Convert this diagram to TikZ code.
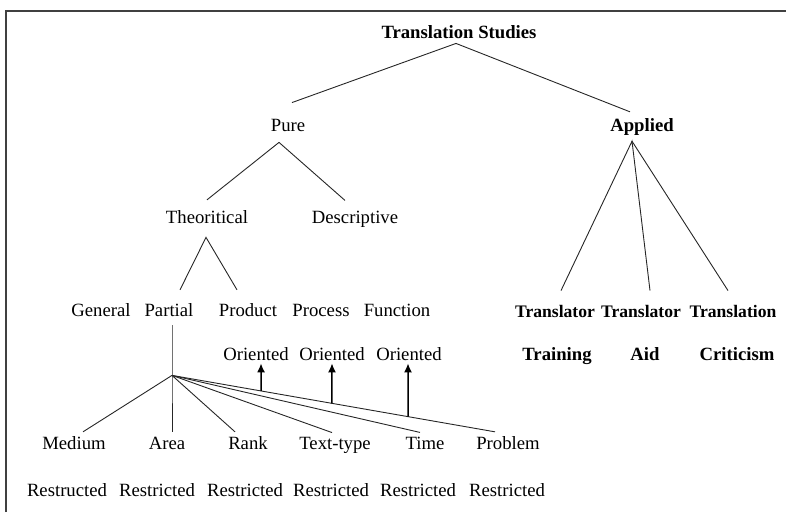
\documentclass[tikz,border=0pt]{standalone}
\usepackage{fontspec}
\setmainfont{Liberation Serif}
\usetikzlibrary{calc,arrows.meta}

\begin{document}
\begin{tikzpicture}[x=1pt,y=-1pt,
term/.style={inner sep=0pt, anchor=base, font=\fontsize{18.7}{22}\selectfont},
boldterm/.style={term, font=\fontsize{18.7}{22}\selectfont\bfseries},
narrowterm/.style={term, font=\fontsize{17.6}{22}\selectfont\bfseries},
branch/.style={draw=black!85, line width=0.9pt},
uparrow/.style={draw=black, line width=1.5pt, -{Latex[length=9pt,width=8pt]}}]
\useasboundingbox (0,0) rectangle (786,512);
\draw[line width=1.6pt, black!75] (6,512) -- (6,11) -- (786,11);

% upper levels
\node[boldterm] (studies) at (459,38) {Translation Studies};
\node[term] (pure) at (288,131) {Pure};
\node[boldterm] (applied) at (642,131) {Applied};
\node[term] (theo) at (207,223) {Theoritical};
\node[term] (descr) at (355,223) {Descriptive};

% pure branch
\node[term] (general) at (101,316) {General};
\node[term] (partial) at (169,316) {Partial};
\node[term] (product) at (248,316) {Product};
\node[term] (process) at (321,316) {Process};
\node[term] (function) at (397,316) {Function};
\node[term] (or1) at (256,360) {Oriented};
\node[term] (or2) at (332,360) {Oriented};
\node[term] (or3) at (409,360) {Oriented};

\node[term] (medium) at (74,449) {Medium};
\node[term] (area) at (167,449) {Area};
\node[term] (rank) at (248,449) {Rank};
\node[term] (texttype) at (335,449) {Text-type};
\node[term] (time) at (425,449) {Time};
\node[term] (problem) at (508,449) {Problem};
\node[term] (r1) at (67,496) {Restructed};
\node[term] (r2) at (157,496) {Restricted};
\node[term] (r3) at (245,496) {Restricted};
\node[term] (r4) at (331,496) {Restricted};
\node[term] (r5) at (418,496) {Restricted};
\node[term] (r6) at (507,496) {Restricted};

% applied branch
\node[narrowterm] (tr1) at (555,317) {Translator};
\node[narrowterm] (tr2) at (641,317) {Translator};
\node[narrowterm] (tr3) at (733,317) {Translation};
\node[boldterm] (training) at (557,360) {Training};
\node[boldterm] (aid) at (645,360) {Aid};
\node[boldterm] (criticism) at (737,360) {Criticism};

% connectors
\draw[branch] ([shift={(4,-16)}]pure.north) -- ([shift={(-3,5)}]studies.south) -- ([shift={(-12,-6)}]applied.north);
\draw[branch] ([shift={(0,-10)}]theo.north) -- ([shift={(-9,11)}]pure.south) -- ([shift={(-10,-10)}]descr.north);
\draw[branch] ([shift={(11,-13)}]partial.north) -- ([shift={(-1,14)}]theo.south) -- ([shift={(-11,-13)}]product.north);
\draw[branch] ([shift={(6,-14)}]tr1.north) -- ([shift={(-10,6)}]applied.south) -- ([shift={(9,-14)}]tr2.north);
\draw[branch] ([shift={(-10,6)}]applied.south) -- ([shift={(-5,-14)}]tr3.north);

\coordinate (hub) at ([shift={(3,59)}]partial.south);
\coordinate (pend) at ([shift={(-13,-4)}]problem.north);
\draw[branch] ([shift={(3,9)}]partial.south) -- (hub) -- ([shift={(5,-4)}]area.north);
\foreach \n/\dx in {medium/9, rank/-13, texttype/-3, time/-5}
  \draw[branch] (hub) -- ([shift={(\dx,-4)}]\n.north);
\draw[branch] (hub) -- (pend);

\draw[uparrow] ($(hub)!0.276!(pend)$) -- ([shift={(5,3)}]or1.south);
\draw[uparrow] ($(hub)!0.495!(pend)$) -- ([shift={(0,3)}]or2.south);
\draw[uparrow] ($(hub)!0.731!(pend)$) -- ([shift={(-1,3)}]or3.south);
\end{tikzpicture}
\end{document}
